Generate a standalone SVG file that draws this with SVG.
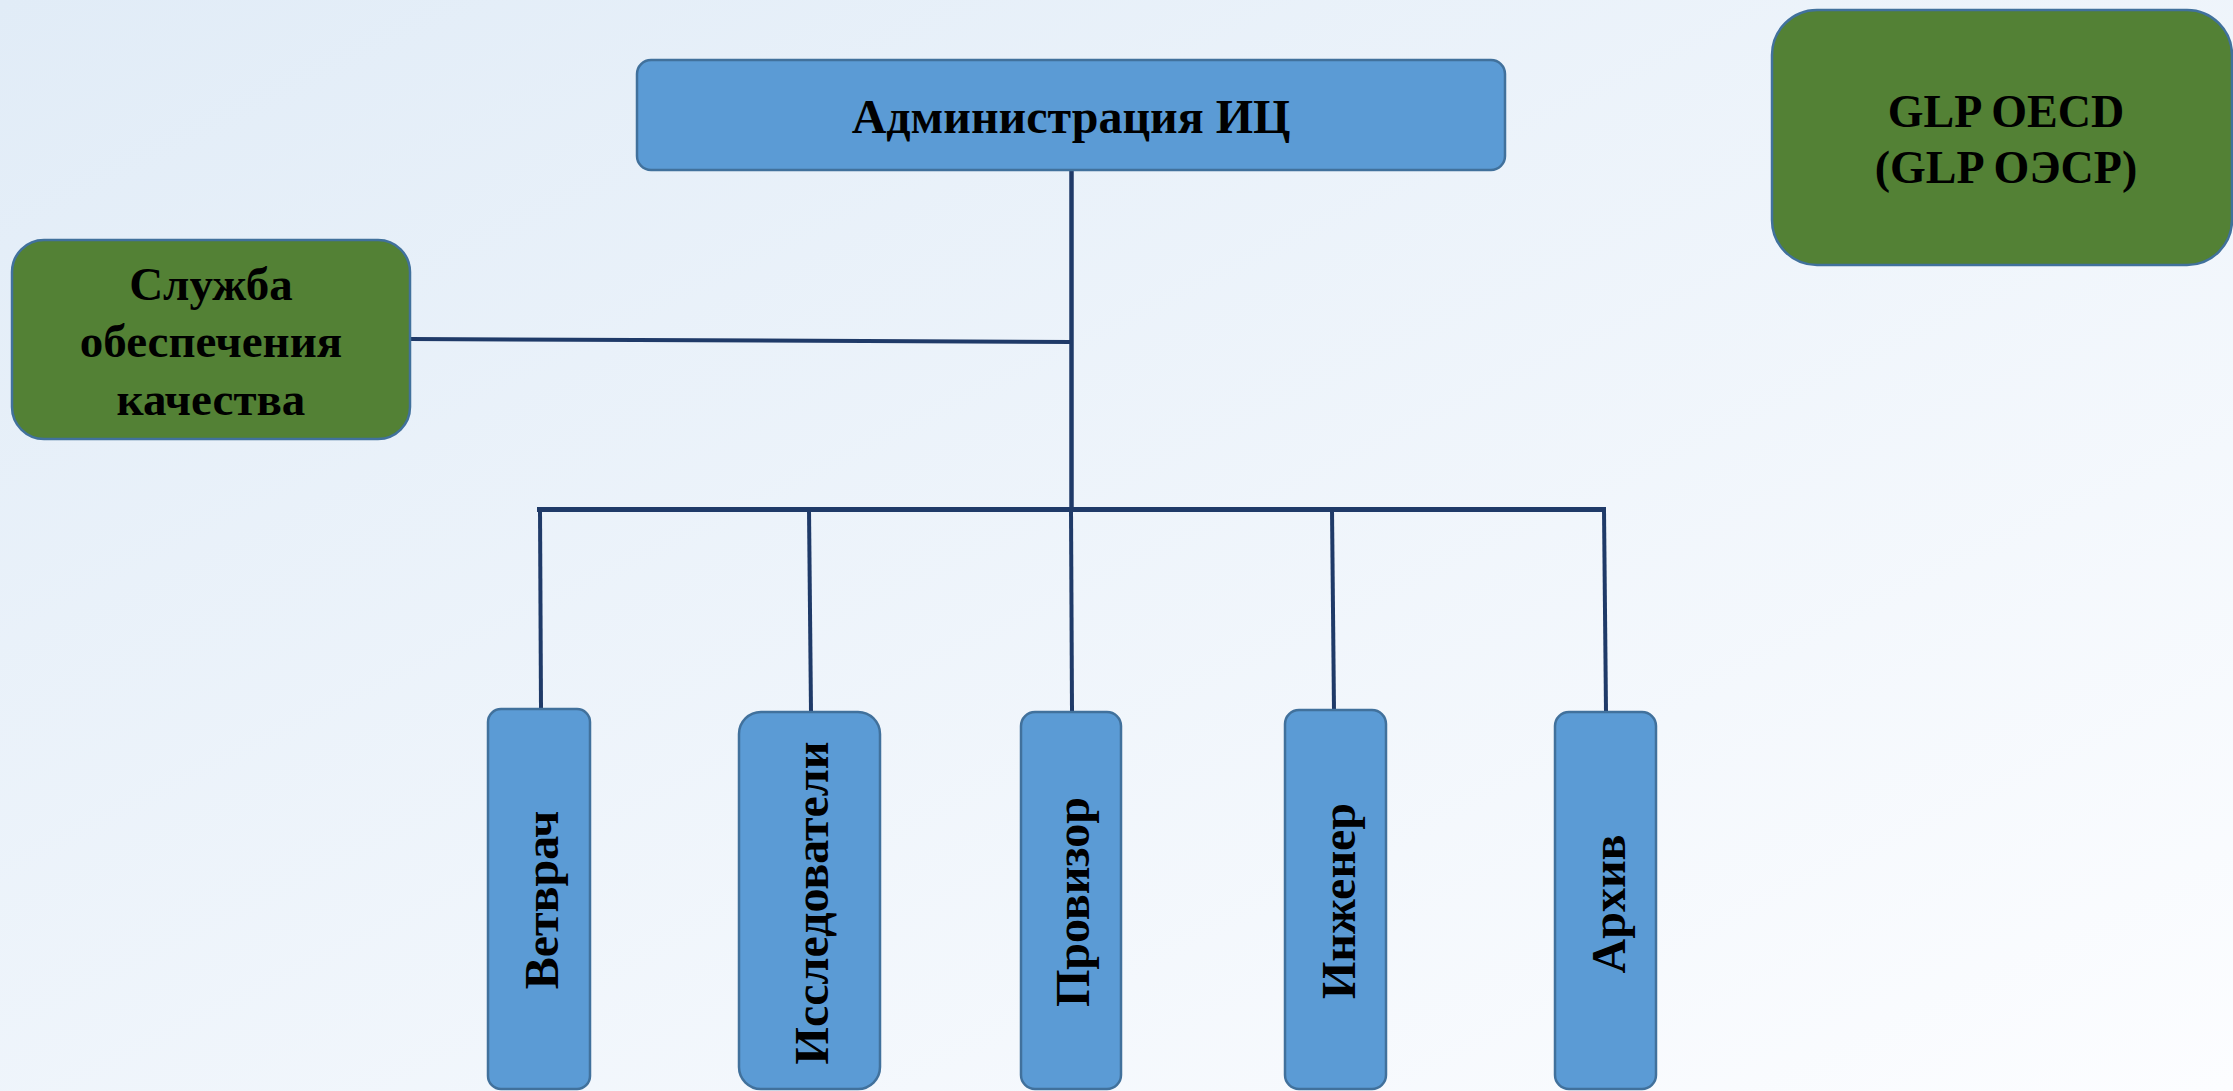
<svg xmlns="http://www.w3.org/2000/svg" width="2233" height="1091" viewBox="0 0 2233 1091">
<defs>
<linearGradient id="bg" x1="0" y1="0" x2="1" y2="1">
<stop offset="0" stop-color="#E1ECF7"/>
<stop offset="1" stop-color="#FCFDFF"/>
</linearGradient>
<style>
.blue{fill:#5B9BD5;stroke:#41719C;stroke-width:2.5}
.green{fill:#538135;stroke:#41719C;stroke-width:2.5}
.t{font-family:"Liberation Serif","Times New Roman",serif;font-weight:bold;fill:#000;text-anchor:middle}
.c{stroke:#1F3A68;stroke-width:4;fill:none}
</style>
</defs>
<rect width="2233" height="1091" fill="url(#bg)"/>
<g id="connectors">
<line class="c" x1="1071.5" y1="170" x2="1071.5" y2="510" style="stroke-width:4.5"/>
<line class="c" x1="410" y1="339" x2="1071" y2="342"/>
<line class="c" x1="537" y1="509.5" x2="1606" y2="509.5" style="stroke-width:5"/>
<line class="c" x1="540" y1="510" x2="541" y2="709"/>
<line class="c" x1="809" y1="510" x2="811" y2="712"/>
<line class="c" x1="1071" y1="510" x2="1072" y2="712"/>
<line class="c" x1="1332" y1="510" x2="1334" y2="711"/>
<line class="c" x1="1604" y1="510" x2="1606" y2="712"/>
</g>
<g id="admin">
<rect class="blue" x="637" y="60" width="868" height="110" rx="14"/>
<text class="t" x="1071" y="133" font-size="48">Администрация ИЦ</text>
</g>
<g id="qa">
<rect class="green" x="12" y="240" width="398" height="199" rx="32"/>
<text class="t" font-size="47"><tspan x="211" y="300">Служба</tspan><tspan x="211" y="357">обеспечения</tspan><tspan x="211" y="415">качества</tspan></text>
</g>
<g id="glp">
<rect class="green" x="1772" y="10" width="460" height="255" rx="45"/>
<text class="t" font-size="46"><tspan x="2006" y="127">GLP OECD</tspan><tspan x="2006" y="183">(GLP ОЭСР)</tspan></text>
</g>
<g id="vetvrach">
<rect class="blue" x="488" y="709" width="102" height="380" rx="13"/>
<text class="t" font-size="48" transform="translate(558 900) rotate(-90)">Ветврач</text>
</g>
<g id="issledovateli">
<rect class="blue" x="739" y="712" width="141" height="377" rx="22"/>
<text class="t" font-size="48" transform="translate(828 903) rotate(-90)">Исследователи</text>
</g>
<g id="provizor">
<rect class="blue" x="1021" y="712" width="100" height="377" rx="14"/>
<text class="t" font-size="48" transform="translate(1089 902) rotate(-90)">Провизор</text>
</g>
<g id="inzhener">
<rect class="blue" x="1285" y="710" width="101" height="379" rx="14"/>
<text class="t" font-size="48" transform="translate(1355 901) rotate(-90)">Инженер</text>
</g>
<g id="arhiv">
<rect class="blue" x="1555" y="712" width="101" height="377" rx="14"/>
<text class="t" font-size="48" transform="translate(1625 904) rotate(-90)">Архив</text>
</g>
</svg>
